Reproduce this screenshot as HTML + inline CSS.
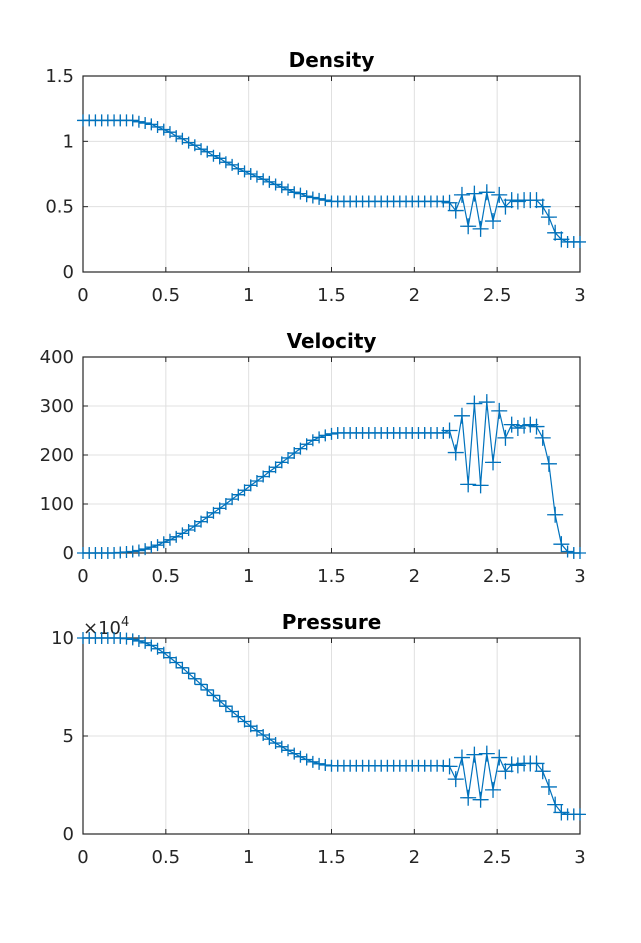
<!DOCTYPE html>
<html><head><meta charset="utf-8"><style>
body{margin:0;background:#fff;}
svg text{font-family:"DejaVu Sans","Liberation Sans",sans-serif;}
</style></head><body>
<svg id="fig" width="641" height="938" xmlns="http://www.w3.org/2000/svg"></svg>
<script>
const xs=[];for(let k=0;k<=80;k++)xs.push(+(k*0.0375).toFixed(4));
const density=[1.16,1.16,1.16,1.16,1.16,1.16,1.16,1.16,1.16,1.15,1.14,1.13,1.11,1.09,1.07,1.04,1.02,0.99,0.97,0.94,0.92,0.89,0.87,0.84,0.82,0.79,0.77,0.75,0.73,0.71,0.69,0.67,0.65,0.63,0.61,0.60,0.58,0.57,0.56,0.55,0.54,0.54,0.54,0.54,0.54,0.54,0.54,0.54,0.54,0.54,0.54,0.54,0.54,0.54,0.54,0.54,0.54,0.54,0.54,0.53,0.47,0.59,0.35,0.60,0.33,0.61,0.39,0.59,0.50,0.55,0.54,0.55,0.55,0.55,0.50,0.42,0.30,0.25,0.23,0.23,0.23];
const velocity=[0,0,0,0,0,0,1,2,3,5,8,12,16,22,27,33,40,47,55,64,73,82,91,100,110,119,128,138,147,156,166,175,185,194,204,213,222,230,236,240,243,245,245,245,245,245,245,245,245,245,245,245,245,245,245,245,245,245,245,250,205,280,140,305,138,308,185,290,235,262,255,260,262,258,235,182,78,18,3,0,0];
const pressure=[10,10,10,10,10,10,10,9.97,9.93,9.85,9.75,9.62,9.45,9.25,9.0,8.75,8.48,8.2,7.92,7.63,7.35,7.07,6.79,6.52,6.25,5.99,5.74,5.5,5.27,5.05,4.84,4.64,4.45,4.27,4.1,3.94,3.8,3.68,3.58,3.52,3.48,3.48,3.48,3.48,3.48,3.48,3.48,3.48,3.48,3.48,3.48,3.48,3.48,3.48,3.48,3.48,3.48,3.48,3.48,3.45,2.8,3.9,1.85,4.05,1.75,4.1,2.25,3.9,3.2,3.55,3.5,3.6,3.6,3.6,3.2,2.4,1.5,1.1,1.0,1.0,1.0];
const xTicks=[0,0.5,1,1.5,2,2.5,3];
const xTickLabels=["0","0.5","1","1.5","2","2.5","3"];
const panels=[
 {name:"density",title:"Density",top:76,data:density,ymax:1.5,yt:[0,0.5,1,1.5],ytl:["0","0.5","1","1.5"]},
 {name:"velocity",title:"Velocity",top:357,data:velocity,ymax:400,yt:[0,100,200,300,400],ytl:["0","100","200","300","400"]},
 {name:"pressure",title:"Pressure",top:638,data:pressure,ymax:10,yt:[0,5,10],ytl:["0","5","10"],exp:true}
];
const NS="http://www.w3.org/2000/svg",svg=document.getElementById('fig');
function mk(t,a,p){const e=document.createElementNS(NS,t);for(const k in a)e.setAttribute(k,a[k]);(p||svg).appendChild(e);return e;}
const X0=83,X1=580,H=196;
panels.forEach(p=>{
 const g=mk('g',{});
 
 
 const sx=v=>X0+v/3*(X1-X0), sy=v=>p.top+H-v/p.ymax*H;
 xTicks.forEach((t,i)=>{
  const gl=mk('line',{x1:sx(t),x2:sx(t),y1:p.top,y2:p.top+H,stroke:'#e0e0e0','stroke-width':1},g);
  
  mk('line',{x1:sx(t),x2:sx(t),y1:p.top+H,y2:p.top+H-5,stroke:'#262626'},g);
  mk('line',{x1:sx(t),x2:sx(t),y1:p.top,y2:p.top+5,stroke:'#262626'},g);
  const tl=mk('text',{x:sx(t),y:p.top+H+29,'text-anchor':'middle','font-size':18,fill:'#262626'},g);
  tl.textContent=xTickLabels[i];
  
 });
 p.yt.forEach((t,i)=>{
  const gl=mk('line',{x1:X0,x2:X1,y1:sy(t),y2:sy(t),stroke:'#e0e0e0','stroke-width':1},g);
  
  mk('line',{x1:X0,x2:X0+5,y1:sy(t),y2:sy(t),stroke:'#262626'},g);
  mk('line',{x1:X1,x2:X1-5,y1:sy(t),y2:sy(t),stroke:'#262626'},g);
  const tl=mk('text',{x:X0-9,y:sy(t)+6,'text-anchor':'end','font-size':18,fill:'#262626'},g);
  tl.textContent=p.ytl[i];
  
 });
 const box=mk('rect',{x:X0,y:p.top,width:X1-X0,height:H,fill:'none',stroke:'#262626','stroke-width':1.2},g);
 
 const tt=mk('text',{x:(X0+X1)/2,y:p.top-9,'text-anchor':'middle','font-size':20,'font-weight':'bold',fill:'#000'},g);
 tt.textContent=p.title;
 
 if(p.exp){
  const ex=mk('text',{x:X0,y:p.top-4,'font-size':18,fill:'#262626'},g);
  ex.innerHTML='×10<tspan dy="-8" font-size="13">4</tspan>';
  
 }
 xs.forEach((x,i)=>{
  const cx=sx(x),cy=sy(p.data[i]);
  const m=mk('path',{d:`M${cx-5} ${cy}h10M${cx} ${cy-5}v10`,stroke:'#555','stroke-width':1},g);
  
 });
 const pts=xs.map((x,i)=>sx(x)+','+sy(p.data[i])).join(' ');
 const ln=mk('polyline',{points:pts,fill:'none',stroke:'#0072BD','stroke-width':1.2},g);
 
 xs.forEach((x,i)=>{
  const cx=sx(x),cy=sy(p.data[i]);
  const s=(x>2.2&&x<2.9)?8:6;
  const m=mk('path',{d:`M${cx-s} ${cy}h${2*s}M${cx} ${cy-s}v${2*s}`,stroke:'#0072BD','stroke-width':1.3},g);
  
 });
});
</script>
</body></html>
